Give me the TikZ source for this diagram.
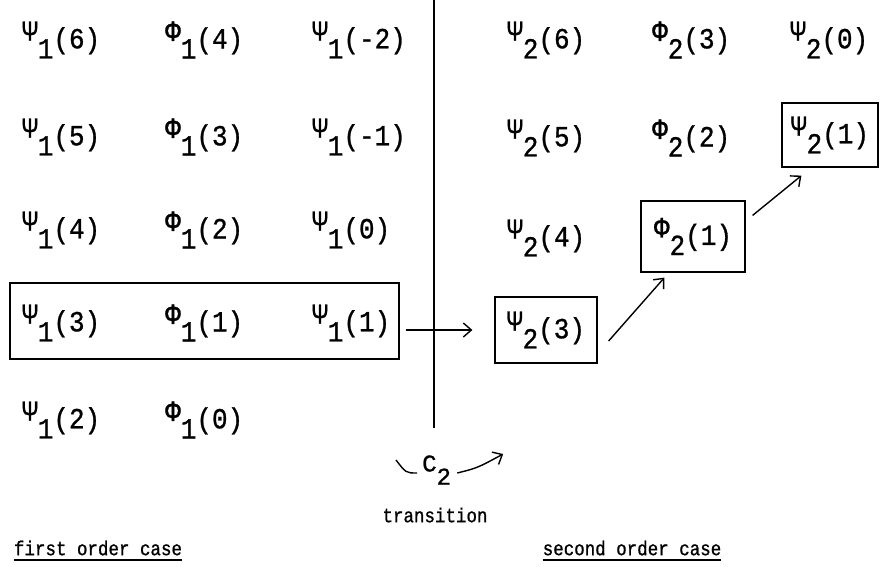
\documentclass[tikz,border=0pt]{standalone}
\usepackage{fontspec}
\setmainfont{Liberation Mono}[BoldFont=Liberation Mono, BoldFeatures={FakeBold=1.0}]
\usepackage{tikz}
\usetikzlibrary{arrows.meta, positioning, calc}

\newcommand{\wf}[3]{\scalebox{1}[1.12]{\raisebox{.26em}{#1}\raisebox{-.35em}{#2}(#3)}}

\begin{document}
\begin{tikzpicture}[x=1pt, y=-1pt,
    wf_node/.style={anchor=west, inner sep=0pt, font=\fontsize{26}{30}\selectfont\bfseries},
    box_node/.style={draw, line width=1.2pt, inner sep=0pt, font=\fontsize{26}{30}\selectfont\bfseries},
    lbl_node/.style={inner sep=0pt, font=\fontsize{17.5}{20}\selectfont\bfseries},
    flow/.style={line width=1.4pt, -{Straight Barb[length=8pt, width=14pt]}},
    ]
    \useasboundingbox (0,0) rectangle (880,566);

    % Nodes, first order case
    \node[wf_node] (a6) at (22,40) {\wf{Ψ}{1}{6}};
    \node[wf_node] (a5) at (22,137) {\wf{Ψ}{1}{5}};
    \node[wf_node] (a4) at (22,230) {\wf{Ψ}{1}{4}};
    \node[wf_node] (a3) at (22,323) {\wf{Ψ}{1}{3}};
    \node[wf_node] (a2) at (22,420) {\wf{Ψ}{1}{2}};
    \node[wf_node] (b4) at (165,40) {\wf{Φ}{1}{4}};
    \node[wf_node] (b3) at (165,137) {\wf{Φ}{1}{3}};
    \node[wf_node] (b2) at (165,230) {\wf{Φ}{1}{2}};
    \node[wf_node] (b1) at (165,323) {\wf{Φ}{1}{1}};
    \node[wf_node] (b0) at (165,420) {\wf{Φ}{1}{0}};
    \node[wf_node] (cm2) at (312,40) {\wf{Ψ}{1}{-2}};
    \node[wf_node] (cm1) at (312,137) {\wf{Ψ}{1}{-1}};
    \node[wf_node] (c0) at (312,230) {\wf{Ψ}{1}{0}};
    \node[wf_node] (c1) at (312,323) {\wf{Ψ}{1}{1}};
    \node[box_node, minimum width=389, minimum height=76] (rowbox) at (204.5,321) {};

    % Nodes, second order case
    \node[wf_node] (p26) at (507,40) {\wf{Ψ}{2}{6}};
    \node[wf_node] (p25) at (507,138) {\wf{Ψ}{2}{5}};
    \node[wf_node] (p24) at (507,238) {\wf{Ψ}{2}{4}};
    \node[box_node, minimum width=102, minimum height=66] (p23) at (546,330) {\wf{Ψ}{2}{3}};
    \node[wf_node] (f23) at (652,40) {\wf{Φ}{2}{3}};
    \node[wf_node] (f22) at (652,138) {\wf{Φ}{2}{2}};
    \node[box_node, minimum width=104, minimum height=71] (f21) at (693,236.5) {\wf{Φ}{2}{1}};
    \node[wf_node] (p20) at (790,40) {\wf{Ψ}{2}{0}};
    \node[box_node, minimum width=96, minimum height=64] (p21) at (830,135) {\wf{Ψ}{2}{1}};

    % Divider and labels
    \coordinate (divtop) at (434,0);
    \coordinate (divbot) at (434,428);
    \draw[line width=1.4pt] (divtop) -- (divbot);
    \node[inner sep=0pt, anchor=west, font=\fontsize{24}{28}\selectfont\bfseries] (c2) at (422,470) {C\raisebox{-.55em}{2}};
    \node[lbl_node] (trans) at (435,515) {\scalebox{1}[1.15]{transition}};
    \node[lbl_node] (foc) at (98,548) {\scalebox{1}[1.15]{first order case}};
    \node[lbl_node] (soc) at (632,548) {\scalebox{1}[1.15]{second order case}};
    \draw[line width=2pt] ([yshift=-4pt]foc.south west) -- ([yshift=-4pt]foc.south east);
    \draw[line width=2pt] ([yshift=-4pt]soc.south west) -- ([yshift=-4pt]soc.south east);

    % Arrows
    \draw[flow, shorten <=6pt, shorten >=22pt] (rowbox.east |- p23.west) -- (p23.west);
    \draw[flow] ([shift={(11,11)}]p23.east) -- ([shift={(24,5)}]f21.south west);
    \draw[flow] ([shift={(7,15)}]f21.north east) -- ([shift={(20,8)}]p21.south west);
    \draw[line width=1.4pt] ([shift={(-26,-10)}]c2.west) .. controls ([shift={(-16,3)}]c2.west) .. ([shift={(-5,3)}]c2.west);
    \draw[flow] ([shift={(6,3)}]c2.east) .. controls ([shift={(26,-2)}]c2.east) .. ([shift={(52,-16)}]c2.east);
\end{tikzpicture}
\end{document}
